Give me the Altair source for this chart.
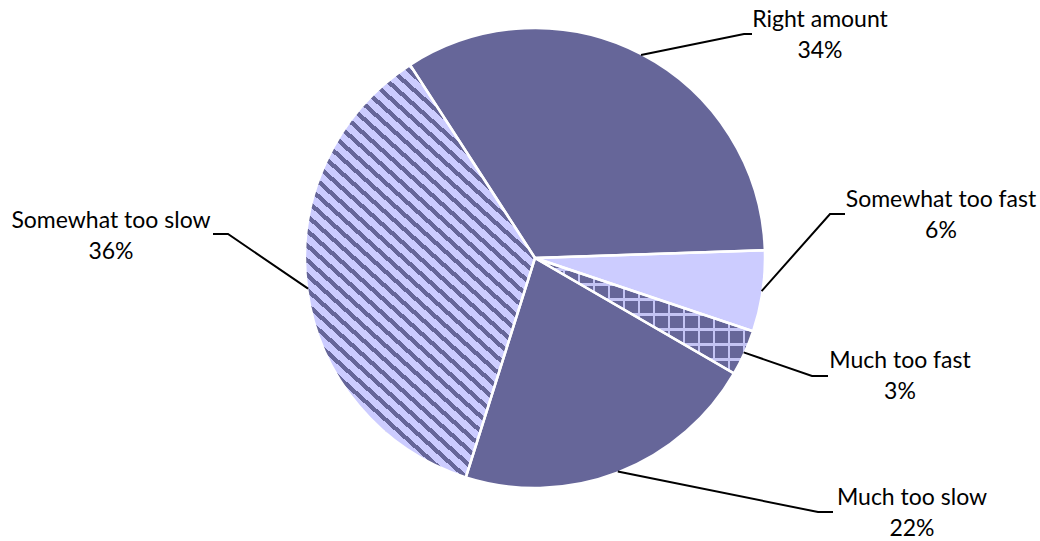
import math
import altair as alt
import pandas as pd

# ---------------- data ----------------
categories = ["Right amount", "Somewhat too fast", "Much too fast", "Much too slow", "Somewhat too slow"]
shares = [33.6, 5.7, 3.2, 21.5, 36.0]          # slice sizes estimated from the angles
pct_labels = ["34%", "6%", "3%", "22%", "36%"]  # printed labels

# ---------------- layout / style ----------------
W, H = 1040, 541
CX, CY, R = 535, 258, 230
START_DEG = 327.1          # where the first slice starts (clockwise from 12 o'clock)
DARK = "#666699"
LIGHT = "#CCCCFF"
GRID = "#C4C4F4"
base_fill = [DARK, LIGHT, DARK, DARK, LIGHT]
FONT = "Lato"
FSIZE = 23
LINE_GAP = 31

# label layout: elbow point of leader, end of horizontal stub, text centre x, first-line baseline
label_layout = {
    "Right amount":      dict(elbow=(744, 34),  end=(752, 34),  tx=820, ty=27),
    "Somewhat too fast": dict(elbow=(830, 214), end=(845, 214), tx=941, ty=207),
    "Much too fast":     dict(elbow=(812, 376), end=(828, 376), tx=900, ty=368),
    "Much too slow":     dict(elbow=(818, 512), end=(833, 512), tx=912, ty=505),
    "Somewhat too slow": dict(elbow=(228, 234), end=(213, 234), tx=111, ty=228),
}

total = sum(shares)
angles = []
acc = START_DEG
for s in shares:
    a0 = acc
    a1 = acc + s / total * 360.0
    angles.append((a0, a1))
    acc = a1


def pt(a_deg, r):
    a = math.radians(a_deg)
    return (r * math.sin(a), -r * math.cos(a))


def wedge_bbox(a0, a1):
    pts = [(0.0, 0.0), pt(a0, R), pt(a1, R)]
    k = math.ceil(a0 / 90.0)
    while k * 90 <= a1:
        pts.append(pt(k * 90, R))
        k += 1
    xs = [p[0] for p in pts]
    ys = [p[1] for p in pts]
    return max(xs) - min(xs), max(ys) - min(ys)


def stripe_gradient(bw, bh, direction, period, band, band_color, bg_color):
    dx, dy = direction
    du = (dx / bw, dy / bh)
    v = (du[1], -du[0])
    corners = [(0, 0), (1, 0), (0, 1), (1, 1)]
    t = [c[0] * v[0] + c[1] * v[1] for c in corners]
    imin = t.index(min(t))
    imax = t.index(max(t))
    p1 = corners[imin]
    vv = v[0] ** 2 + v[1] ** 2
    sc = (t[imax] - t[imin]) / vv
    p2 = (p1[0] + v[0] * sc, p1[1] + v[1] * sc)
    dn = math.hypot(dx, dy)
    n = (-dy / dn, dx / dn)
    cmin = (corners[imin][0] * bw, corners[imin][1] * bh)
    cmax = (corners[imax][0] * bw, corners[imax][1] * bh)
    L = abs((cmax[0] - cmin[0]) * n[0] + (cmax[1] - cmin[1]) * n[1])
    stops = []
    pos = 0.0
    while pos < L:
        a = round(pos / L, 5)
        b = round(min((pos + period - band) / L, 1), 5)
        c = round(min((pos + period) / L, 1), 5)
        stops += [
            {"offset": a, "color": bg_color},
            {"offset": b, "color": bg_color},
            {"offset": b, "color": band_color},
            {"offset": c, "color": band_color},
        ]
        pos += period
    return {
        "gradient": "linear",
        "x1": round(p1[0], 5), "y1": round(p1[1], 5),
        "x2": round(p2[0], 5), "y2": round(p2[1], 5),
        "stops": stops,
    }


df = pd.DataFrame({
    "category": categories,
    "share": shares,
    "idx": list(range(len(categories))),
    "pct": pct_labels,
})

start_rad = math.radians(START_DEG)
theta = alt.Theta("share:Q", stack=True,
                  scale=alt.Scale(range=[start_rad, start_rad + 2 * math.pi]))
order = alt.Order("idx:Q", sort="ascending")
cx = alt.value(CX)
cy = alt.value(CY)

base = alt.Chart(df).mark_arc(radius=R, stroke=None).encode(
    theta=theta, order=order, x=cx, y=cy,
    fill=alt.Fill("category:N", scale=alt.Scale(domain=categories, range=base_fill), legend=None),
)

# diagonal stripes on "Somewhat too slow"
i_sws = categories.index("Somewhat too slow")
bw, bh = wedge_bbox(*angles[i_sws])
stripes = stripe_gradient(bw, bh, (1.0, 0.9), 11.0, 4.3, DARK, LIGHT)
layer_stripes = alt.Chart(df).mark_arc(radius=R, stroke=None, fill=stripes).encode(
    theta=theta, order=order, x=cx, y=cy,
    opacity=alt.condition(alt.datum.category == "Somewhat too slow", alt.value(1), alt.value(0)),
)

# cross-hatch on "Much too fast"
i_mtf = categories.index("Much too fast")
bw2, bh2 = wedge_bbox(*angles[i_mtf])
TRANSP = "rgba(204,204,255,0)"
hlines = stripe_gradient(bw2, bh2, (1.0, 0.0), 15.0, 2.2, GRID, TRANSP)
vlines = stripe_gradient(bw2, bh2, (0.0, 1.0), 15.0, 2.2, GRID, TRANSP)
layer_h = alt.Chart(df).mark_arc(radius=R, stroke=None, fill=hlines).encode(
    theta=theta, order=order, x=cx, y=cy,
    opacity=alt.condition(alt.datum.category == "Much too fast", alt.value(1), alt.value(0)),
)
layer_v = alt.Chart(df).mark_arc(radius=R, stroke=None, fill=vlines).encode(
    theta=theta, order=order, x=cx, y=cy,
    opacity=alt.condition(alt.datum.category == "Much too fast", alt.value(1), alt.value(0)),
)

# white separators on top
outline = alt.Chart(df).mark_arc(radius=R, fillOpacity=0, stroke="white", strokeWidth=2.5).encode(
    theta=theta, order=order, x=cx, y=cy,
)

# leader lines (start point derived from each slice's mid angle)
rows = []
for i, cat in enumerate(categories):
    a0, a1 = angles[i]
    mx, my = pt((a0 + a1) / 2, R - 1)
    lay = label_layout[cat]
    rows.append({"category": cat, "seq": 0, "lx": CX + mx, "ly": CY + my})
    rows.append({"category": cat, "seq": 1, "lx": lay["elbow"][0], "ly": lay["elbow"][1]})
    rows.append({"category": cat, "seq": 2, "lx": lay["end"][0], "ly": lay["end"][1]})
lines_df = pd.DataFrame(rows)

leaders = alt.Chart(lines_df).mark_line(color="black", strokeWidth=2).encode(
    x=alt.X("lx:Q", scale=None, axis=None),
    y=alt.Y("ly:Q", scale=None, axis=None),
    detail="category:N",
    order="seq:Q",
)

text_df = pd.DataFrame({
    "category": categories,
    "pct": pct_labels,
    "tx": [label_layout[c]["tx"] for c in categories],
    "ty": [label_layout[c]["ty"] for c in categories],
}).assign(ty2=lambda d: d["ty"] + LINE_GAP)

name_text = alt.Chart(text_df).mark_text(
    font=FONT, fontSize=FSIZE, align="center", baseline="alphabetic", color="black"
).encode(
    x=alt.X("tx:Q", scale=None, axis=None),
    y=alt.Y("ty:Q", scale=None, axis=None),
    text="category:N",
)
pct_text = alt.Chart(text_df).mark_text(
    font=FONT, fontSize=FSIZE, align="center", baseline="alphabetic", color="black"
).encode(
    x=alt.X("tx:Q", scale=None, axis=None),
    y=alt.Y("ty2:Q", scale=None, axis=None),
    text="pct:N",
)

chart = alt.layer(
    base, layer_stripes, layer_h, layer_v, outline, leaders, name_text, pct_text
).properties(
    width=W, height=H, padding=0, autosize="none", background="white"
).configure_view(stroke=None)

chart.save("out.html", embed_options={"renderer": "svg", "actions": False})
